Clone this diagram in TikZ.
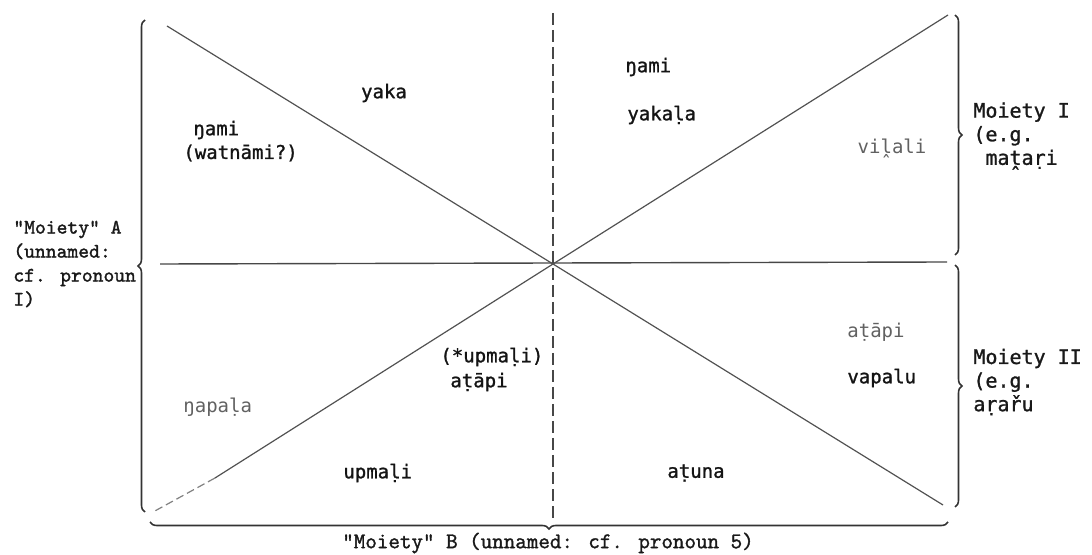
\documentclass[tikz,border=0pt]{standalone}
\usepackage{fontspec}
\newfontfamily\lgmono{DejaVu Sans Mono}
\newfontfamily\lgmonob[FakeBold=1.2]{DejaVu Sans Mono}
\newfontfamily\courb[FakeBold=1.5]{Latin Modern Mono}
\usetikzlibrary{decorations.pathreplacing}
\tikzset{
  lbl/.style={font=\lgmonob\fontsize{9.5}{11}\selectfont, text=black!92, inner sep=0pt, anchor=west},
  faint/.style={font=\lgmono\fontsize{9.5}{11}\selectfont, inner sep=0pt, anchor=west, text=black!62},
  lside/.style={font=\courb\fontsize{10.3}{12}\selectfont, align=left, inner sep=0pt, anchor=west, text=black!90},
  rside/.style={font=\lgmonob\fontsize{10}{11.8}\selectfont, align=left, inner sep=0pt, anchor=west, text=black!90},
  axisline/.style={draw=black!72, line width=0.7pt},
  diag/.style={draw=black!68, line width=0.6pt},
  bracestyle/.style={draw=black!80, line width=0.8pt, decorate, decoration={brace, amplitude=3.5pt}},
}
\begin{document}
\begin{tikzpicture}[x=0.5pt,y=-0.5pt]
\useasboundingbox (0,0) rectangle (1092,555);
% key points
\coordinate (C) at (553,264);
\coordinate (TL) at (167,26);
\coordinate (TR) at (948,15);
\coordinate (BR) at (943,505);
\coordinate (BL) at (153,512);
\coordinate (BLm) at (215,478);
\coordinate (HL) at (160,264);
\coordinate (HR) at (947,262);
\coordinate (VT) at (553,13);
\coordinate (VB) at (553,522);
% axes
\draw[axisline] (HL) -- (HR);
\draw[axisline, dashed, dash pattern=on 6pt off 2.5pt] (VT) -- (VB);
% diagonals
\draw[diag] (TL) -- (C) -- (BR);
\draw[diag] (TR) -- (C) -- (BLm);
\draw[diag, draw=black!50, dashed, dash pattern=on 4pt off 2pt] (BLm) -- (BL);
% braces
\draw[bracestyle] (145,512) -- (145,20);
\draw[bracestyle] (955,15) -- (955,255);
\draw[bracestyle] (955,265) -- (955,507);
\draw[bracestyle] (948,522) -- (150,522);
% inner labels
\node[lbl] (n1) at (193,130) {ŋami};
\node[lbl] (n2) at (183,153) {(watnāmi?)};
\node[lbl, anchor=center] (n3) at (384,93) {yaka};
\node[lbl] (n4) at (625,67) {ŋami};
\node[lbl] (n5) at (627,115) {yakaḷa};
\node[faint, anchor=center] (n6) at (892,148) {viḽali};
\node[faint] (n7) at (183,407) {ŋapaḷa};
\node[lbl] (n8) at (440,357) {(*upmaḷi)};
\node[lbl] (n9) at (450,382) {aṭāpi};
\node[lbl] (n10) at (343,473) {upmaḷi};
\node[lbl] (n11) at (667,473) {aṭuna};
\node[faint] (n12) at (847,332) {aṭāpi};
\node[lbl] (n13) at (847,378) {vapalu};
% side labels
\node[lside] (mA) at (13,264) {"Moiety" A\\(unnamed:\\cf. pronoun\\I)};
\node[lside, font=\courb\fontsize{11.2}{12}\selectfont, anchor=center] (mB) at (548,543) {"Moiety" B (unnamed: cf. pronoun 5)};
\node[rside] (m1) at (973,136) {Moiety I\\(e.g.\\\phantom{M}maṱaṛi};
\node[rside] (m2) at (973,382) {Moiety II\\(e.g.\\aṛařu};
\end{tikzpicture}
\end{document}
